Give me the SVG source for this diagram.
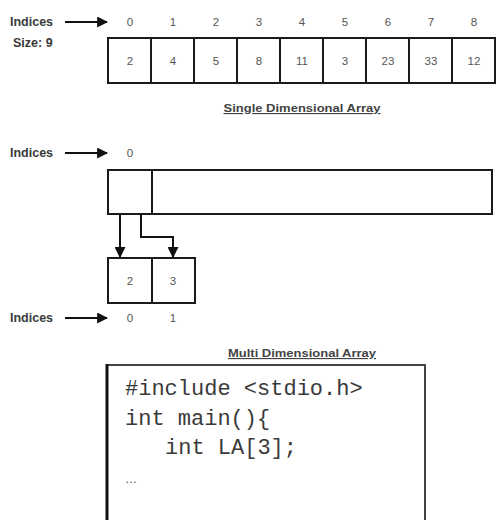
<svg xmlns="http://www.w3.org/2000/svg" width="496" height="520" viewBox="0 0 496 520">
<defs>
<style>
.lbl{font-family:"Liberation Sans",Arial,sans-serif;font-weight:bold;font-size:12.5px;fill:#3a3a3a}
.num{font-family:"Liberation Sans",Arial,sans-serif;font-size:11.5px;fill:#555;text-anchor:middle}
.ttl{font-family:"Liberation Sans",Arial,sans-serif;font-weight:bold;font-size:11.5px;fill:#444;text-anchor:middle;text-decoration:underline}
.cell{fill:#fff;stroke:#1a1a1a;stroke-width:2}
.con{fill:none;stroke:#111;stroke-width:2}
.code{font-family:"Liberation Mono","Courier New",monospace;font-size:22px;fill:#3a3a3a}
</style>
<marker id="ah" viewBox="0 0 10 10" refX="9" refY="5" markerWidth="5.5" markerHeight="5.5" orient="auto" markerUnits="strokeWidth">
<path d="M0,0 L10,5 L0,10 z" fill="#111"/>
</marker>
</defs>
<rect width="496" height="520" fill="#fff"/>

<g id="single-array">
<text class="lbl" x="10" y="26">Indices</text>
<text class="lbl" x="13" y="47">Size: 9</text>
<g class="num">
<text x="130" y="26">0</text><text x="173" y="26">1</text><text x="216" y="26">2</text>
<text x="259" y="26">3</text><text x="302" y="26">4</text><text x="345" y="26">5</text>
<text x="388" y="26">6</text><text x="431" y="26">7</text><text x="474" y="26">8</text>
</g>
<rect class="cell" x="108" y="38" width="43" height="45"/>
<rect class="cell" x="151" y="38" width="43" height="45"/>
<rect class="cell" x="194" y="38" width="43" height="45"/>
<rect class="cell" x="237" y="38" width="43" height="45"/>
<rect class="cell" x="280" y="38" width="43" height="45"/>
<rect class="cell" x="323" y="38" width="43" height="45"/>
<rect class="cell" x="366" y="38" width="43" height="45"/>
<rect class="cell" x="409" y="38" width="43" height="45"/>
<rect class="cell" x="452" y="38" width="43" height="45"/>
<g class="num">
<text x="130" y="65">2</text><text x="173" y="65">4</text><text x="216" y="65">5</text>
<text x="259" y="65">8</text><text x="302" y="65">11</text><text x="345" y="65">3</text>
<text x="388" y="65">23</text><text x="431" y="65">33</text><text x="474" y="65">12</text>
</g>
<text class="ttl" x="302" y="112" textLength="157" lengthAdjust="spacingAndGlyphs">Single Dimensional Array</text>
</g>

<g id="multi-outer">
<text class="lbl" x="10" y="157">Indices</text>
<text class="num" x="130" y="157">0</text>
<rect class="cell" x="108" y="170" width="44" height="44"/>
<rect class="cell" x="152" y="170" width="340" height="44"/>
</g>

<g id="multi-inner">
<rect class="cell" x="108" y="258" width="44" height="45"/>
<rect class="cell" x="152" y="258" width="43" height="45"/>
<text class="num" x="130" y="285">2</text>
<text class="num" x="173" y="285">3</text>
<text class="lbl" x="10" y="322">Indices</text>
<text class="num" x="130" y="322">0</text>
<text class="num" x="173" y="322">1</text>
<text class="ttl" x="302" y="357" textLength="148" lengthAdjust="spacingAndGlyphs">Multi Dimensional Array</text>
</g>

<g id="code-box">
<rect x="107" y="365" width="318" height="170" fill="#fff" stroke="#444" stroke-width="2"/>
<line x1="107" y1="364" x2="107" y2="520" stroke="#111" stroke-width="3"/>
<text class="code" x="125" y="395">#include &lt;stdio.h&gt;</text>
<text class="code" x="125" y="425">int main(){</text>
<text class="code" x="165" y="454">int LA[3];</text>
<text x="125" y="483" font-family="Liberation Sans,sans-serif" font-size="12" fill="#555">…</text>
</g>

<g id="connectors">
<line class="con" x1="65" y1="22" x2="107" y2="22" marker-end="url(#ah)"/>
<line class="con" x1="65" y1="153" x2="107" y2="153" marker-end="url(#ah)"/>
<line class="con" x1="65" y1="318" x2="107" y2="318" marker-end="url(#ah)"/>
<line class="con" x1="120" y1="214" x2="120" y2="257" marker-end="url(#ah)"/>
<polyline class="con" points="141,214 141,237 173,237 173,257" marker-end="url(#ah)"/>
</g>
</svg>
